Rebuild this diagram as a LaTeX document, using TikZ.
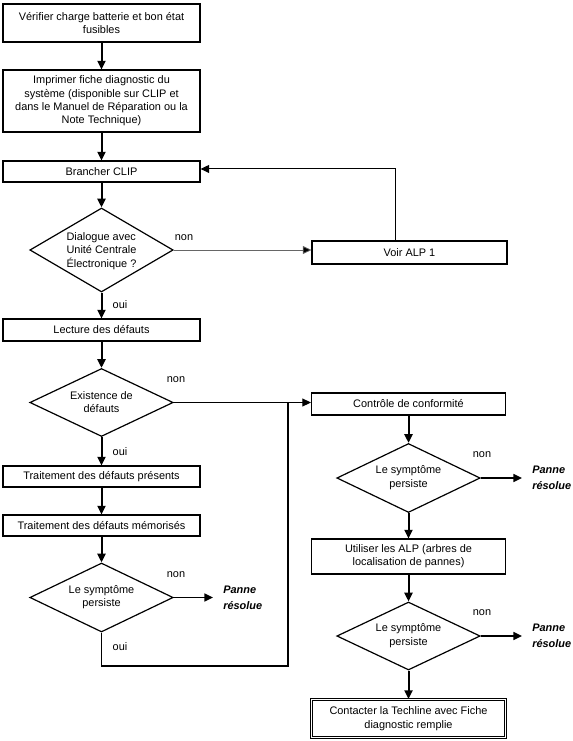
\documentclass[tikz,border=0pt]{standalone}
\usepackage{fontspec}
\setmainfont{Liberation Sans}
\usetikzlibrary{arrows.meta,shapes.geometric}
\begin{document}
\begin{tikzpicture}[x=0.75pt,y=-0.75pt,
  every node/.style={font=\fontsize{8.2}{10}\selectfont, align=center, inner sep=0pt},
  box/.style={draw, line width=0.8pt},
  dia/.style={draw, shape=diamond, line width=0.9pt, inner sep=0pt, minimum width=107.5pt},
  varr/.style={line width=1.5pt, -{Triangle[length=6.5pt,width=6pt]}},
  harr/.style={line width=1.1pt, -{Triangle[length=6.5pt,width=6pt]}},
  midarr/.style={line width=0.8pt, -{Triangle[length=6.5pt,width=6pt]}},
  thinarr/.style={line width=0.6pt, draw=black!60, -{Triangle[length=6.5pt,width=6pt,fill=black]}},
  plain/.style={line width=0.8pt},
  lbl/.style={font=\fontsize{8.2}{10}\selectfont},
  panne/.style={font=\fontsize{8.2}{12}\selectfont\bfseries\itshape, align=left, anchor=west}
]
\useasboundingbox (0,0) rectangle (573,741);

% left column
\node[box, minimum width=147.75pt, minimum height=28.5pt] (b1) at (101.5,23) {Vérifier charge batterie et bon état\\fusibles};
\node[box, minimum width=147.75pt, minimum height=46.5pt] (b2) at (101.5,101) {Imprimer fiche diagnostic du\\système (disponible sur CLIP et\\dans le Manuel de Réparation ou la\\Note Technique)};
\node[box, minimum width=147.75pt, minimum height=15.75pt] (b3) at (101.5,171.5) {Brancher CLIP};
\node[dia, minimum height=63pt] (d1) at (101.5,250) {};
\node[align=left] (d1t) at (101.5,251) {Dialogue avec\\Unité Centrale\\Électronique ?};
\node[box, minimum width=147.75pt, minimum height=16.5pt] (b4) at (101.5,330) {Lecture des défauts};
\node[dia, minimum height=51pt] (d2) at (101.5,402.5) {};
\node (d2t) at (101.5,402) {Existence de\\défauts};
\node[box, minimum width=147.75pt, minimum height=15.75pt] (b5) at (101.5,476.5) {Traitement des défauts présents};
\node[box, minimum width=147.75pt, minimum height=15.75pt] (b6) at (101.5,525.5) {Traitement des défauts mémorisés};
\node[dia, minimum height=51.75pt] (d3) at (101.5,597.5) {};
\node (d3t) at (101.5,597) {Le symptôme\\persiste};
\node[panne] (p1) at (223,597.5) {Panne\\résolue};

% right column
\node[box, minimum width=146.25pt, minimum height=17.25pt] (voir) at (409.5,252.5) {Voir ALP 1};
\node[box, minimum width=145.5pt, minimum height=16.5pt] (c1) at (408.5,404) {Contrôle de conformité};
\node[dia, minimum height=51.75pt] (d4) at (408.5,478) {};
\node (d4t) at (408.5,477.5) {Le symptôme\\persiste};
\node[panne] (p2) at (532,478) {Panne\\résolue};
\node[box, minimum width=145.5pt, minimum height=26.25pt] (c2) at (408.5,556.5) {Utiliser les ALP (arbres de\\localisation de pannes)};
\node[dia, minimum height=51pt] (d5) at (408.5,636) {};
\node (d5t) at (408.5,635.5) {Le symptôme\\persiste};
\node[panne] (p3) at (532,636) {Panne\\résolue};
\node[draw, double, line width=0.7pt, double distance=1.3pt, minimum width=145.5pt, minimum height=28.5pt] (c3) at (408.5,718.5) {Contacter la Techline avec Fiche\\diagnostic remplie};

% labels
\node[lbl] (n1) at (184,238) {non};
\node[lbl] (n2) at (176,380) {non};
\node[lbl] (n3) at (176,575) {non};
\node[lbl] (n4) at (482,455) {non};
\node[lbl] (n5) at (482,613) {non};
\node[lbl] (o1) at (120,305) {oui};
\node[lbl] (o2) at (120,452) {oui};
\node[lbl] (o3) at (120,647) {oui};

% connectors
\draw[varr] (b1) -- (b2);
\draw[varr] (b2) -- (b3);
\draw[varr] (b3) -- (d1);
\draw[varr] (d1) -- (b4);
\draw[varr] (b4) -- (d2);
\draw[varr] (d2) -- (b5);
\draw[varr] (b5) -- (b6);
\draw[varr] (b6) -- (d3);
\draw[harr] (d3.east) -- ([xshift=-7.5pt]p1.west);

\draw[thinarr] (d1.east) -- (d1.east -| voir.west);
\draw[plain, -{Triangle[length=6.5pt,width=6pt]}] ([xshift=-10.5pt]voir.north) |- ([yshift=1.9pt]b3.east);

\draw[midarr] (d2.east) -- (d2.east -| c1.west);
\coordinate (j1) at (288,666);
\coordinate (j2) at (288,402.5);
\draw[plain] (d3.south) |- (j1) -- (j2);

\draw[varr] (c1) -- (d4);
\draw[harr] (d4.east) -- ([xshift=-7.5pt]p2.west);
\draw[varr] (d4) -- (c2);
\draw[varr] (c2) -- (d5);
\draw[harr] (d5.east) -- ([xshift=-7.5pt]p3.west);
\draw[varr] (d5) -- (c3);
\end{tikzpicture}
\end{document}
